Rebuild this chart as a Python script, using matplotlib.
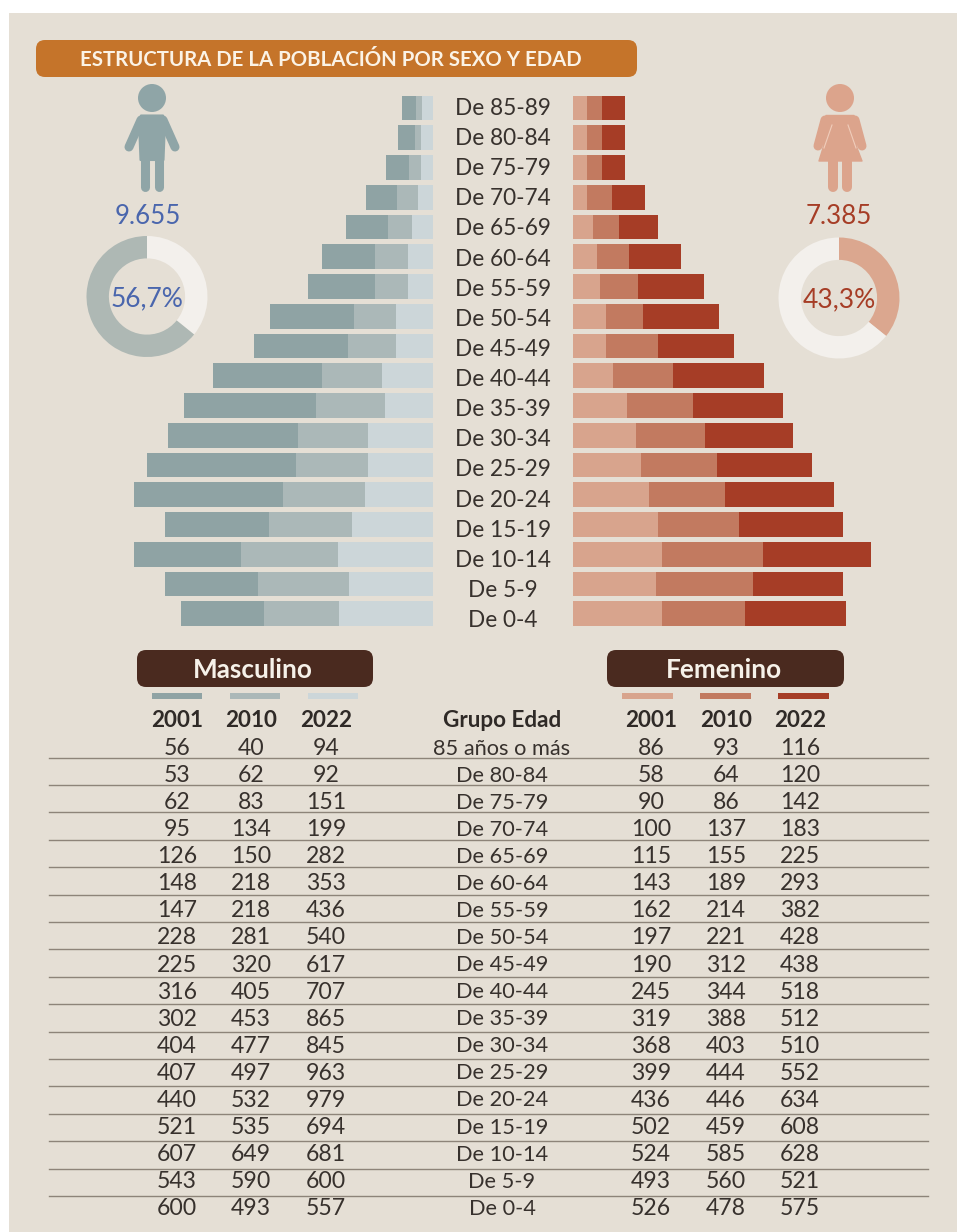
import matplotlib
matplotlib.use("Agg")
import matplotlib.pyplot as plt
from matplotlib.patches import FancyBboxPatch, Rectangle, Circle, Polygon

W, H = 957, 1232
plt.rcParams['font.family'] = ['Lato', 'DejaVu Sans']

age_labels = ["De 85-89","De 80-84","De 75-79","De 70-74","De 65-69","De 60-64","De 55-59","De 50-54","De 45-49",
              "De 40-44","De 35-39","De 30-34","De 25-29","De 20-24","De 15-19","De 10-14","De 5-9","De 0-4"]
table_labels = ["85 años o más"] + age_labels[1:]
years = ["2001", "2010", "2022"]

# values printed in the table
male_2001 = [56,53,62,95,126,148,147,228,225,316,302,404,407,440,521,607,543,600]
male_2010 = [40,62,83,134,150,218,218,281,320,405,453,477,497,532,535,649,590,493]
male_2022 = [94,92,151,199,282,353,436,540,617,707,865,845,963,979,694,681,600,557]
female_2001 = [86,58,90,100,115,143,162,197,190,245,319,368,399,436,502,524,493,526]
female_2010 = [93,64,86,137,155,189,214,221,312,344,388,403,444,446,459,585,560,478]
female_2022 = [116,120,142,183,225,293,382,428,438,518,512,510,552,634,608,628,521,575]

# lengths of the drawn bars, as read from the pyramid (they differ slightly from the table)
bar_male_inner = [71,76,76,93,132,162,162,237,237,326,309,417,417,440,522,615,540,604]
bar_male_mid = [37,39,78,136,155,212,212,274,309,393,447,456,471,531,535,626,594,486]
bar_male_outer = [93,108,149,201,274,345,432,544,611,706,855,840,965,963,678,693,602,542]
bar_female_inner = [84,84,84,84,118,140,157,192,192,235,315,365,398,441,495,521,484,521]
bar_female_mid = [84,84,84,146,148,188,220,218,303,350,383,406,441,447,472,585,567,484]
bar_female_outer = [134,134,134,188,229,299,387,441,445,530,523,513,552,631,608,629,524,585]

male_total = "9.655"
female_total = "7.385"
male_pct = "56,7%"
female_pct = "43,3%"
# ring arcs as drawn in the picture
male_ring = [35.8, 64.2]
female_ring = [35.8, 64.2]

PAPER = "#e5dfd5"
M_COL = ["#ccd6d9", "#abb8b8", "#8fa3a4"]
F_COL = ["#d8a48d", "#c27a60", "#a63d26"]
TXT = "#37312d"
HEAD = "#2f2a27"
BLUE = "#4a66ad"
RED = "#a63d26"

fig = plt.figure(figsize=(W / 100, H / 100), dpi=100, facecolor="white")

def px_axes(l, t, r, b, z=1):
    return fig.add_axes([l / W, 1 - b / H, (r - l) / W, (b - t) / H], zorder=z)

ov = px_axes(0, 0, W, H, 0)
ov.set_xlim(0, W); ov.set_ylim(H, 0); ov.axis("off")
ov.add_patch(Rectangle((9, 13), W - 9, H - 13, fc=PAPER, ec="none"))

top = px_axes(0, 0, W, H, 5)
top.set_xlim(0, W); top.set_ylim(H, 0); top.axis("off"); top.patch.set_alpha(0)

def label(ax, x, yc, s, fs, color=TXT, ha="center", weight="normal"):
    # yc is the centre of the capitals/digits; placed through the baseline
    ax.text(x, yc + 0.5 * fs, s, color=color, fontsize=fs, ha=ha, va="baseline", fontweight=weight)

def pill(ax, x0, y0, x1, y1, color, r=9):
    ax.add_patch(FancyBboxPatch((x0 + r, y0 + r), x1 - x0 - 2 * r, y1 - y0 - 2 * r,
                                boxstyle=f"round,pad={r},rounding_size={r}", fc=color, ec="none"))

pill(ov, 36, 40, 637, 77, "#c5742a")
label(ov, 80, 59, "ESTRUCTURA DE LA POBLACIÓN POR SEXO Y EDAD", 14.7, color="#fbf3e6", ha="left", weight="bold")

# pyramid bars
row0, pitch = 108.0, 29.75
ytop, ybot = row0 - pitch / 2, row0 + 17 * pitch + pitch / 2
ypos = list(range(len(age_labels)))
m_scale, f_scale = 0.1544, 0.1716

axm = px_axes(100, ytop, 432.7, ybot, 2)
axm.set_xlim(332.7 / m_scale, 0); axm.set_ylim(17.5, -0.5); axm.axis("off")
left = [0] * 18
for vals, c in zip([bar_male_inner, bar_male_mid, bar_male_outer], M_COL):
    axm.barh(ypos, vals, left=left, height=0.825, color=c, linewidth=0)
    left = [a + b for a, b in zip(left, vals)]

axf = px_axes(573, ytop, 900, ybot, 2)
axf.set_xlim(0, 327 / f_scale); axf.set_ylim(17.5, -0.5); axf.axis("off")
left = [0] * 18
for vals, c in zip([bar_female_inner, bar_female_mid, bar_female_outer], F_COL):
    axf.barh(ypos, vals, left=left, height=0.825, color=c, linewidth=0)
    left = [a + b for a, b in zip(left, vals)]

for i, lab in enumerate(age_labels):
    label(ov, 503, 106.7 + i * 30.13, lab, 16.3)

# person icons
MI = "#8fa5a7"
top.add_patch(Circle((152, 98), 14, fc=MI, ec="none"))
top.add_patch(Polygon([(141, 115.5), (163, 115.5), (165, 122), (163.5, 160), (140.5, 160), (139, 122)], closed=True,
                      fc=MI, ec=MI, lw=1.5, joinstyle="round"))
top.plot([141, 129], [120, 147], color=MI, lw=6.5, solid_capstyle="round")
top.plot([163, 175], [120, 147], color=MI, lw=6.5, solid_capstyle="round")
top.plot([145, 145], [155, 187], color=MI, lw=6.5, solid_capstyle="round")
top.plot([158.7, 158.7], [155, 187], color=MI, lw=6.5, solid_capstyle="round")

FI = "#dca48c"
top.add_patch(Circle((840, 98), 14, fc=FI, ec="none"))
top.add_patch(Polygon([(826, 115.5), (854, 115.5), (857, 148), (862, 161), (819, 161), (823, 148)], closed=True,
                      fc=FI, ec=FI, lw=1, joinstyle="round"))
top.plot([825, 818], [120, 146], color=FI, lw=6.5, solid_capstyle="round")
top.plot([855, 862], [120, 146], color=FI, lw=6.5, solid_capstyle="round")
top.plot([832, 824], [125, 148], color="#f0cdbb", lw=0.8)
top.plot([848, 856], [125, 148], color="#f0cdbb", lw=0.8)
top.plot([833, 833], [158, 187], color=FI, lw=7.2, solid_capstyle="round")
top.plot([847, 847], [158, 187], color=FI, lw=7.2, solid_capstyle="round")

# totals and rings
label(ov, 147.5, 215, male_total, 18.6, color=BLUE)
label(ov, 839, 215, female_total, 18.6, color=RED)

def donut(cx, cy, vals, colors, text, lcol):
    r = 60.5
    ax = px_axes(cx - r, cy - r, cx + r, cy + r, 3)
    ax.pie(vals, colors=colors, radius=1.0, startangle=90, counterclock=False,
           wedgeprops=dict(width=0.37, linewidth=0))
    ax.set_xlim(-1, 1); ax.set_ylim(-1, 1); ax.axis("off")
    label(top, cx, cy, text, 19, color=lcol)

donut(147, 296.5, male_ring, ["#f3f0ec", "#aeb8b4"], male_pct, BLUE)
donut(839, 298, female_ring, ["#dba78f", "#f3f0ec"], female_pct, RED)

# group headers and legend swatches
pill(ov, 137, 650, 373, 687, "#4a2a1f")
pill(ov, 607, 650, 844, 687, "#4a2a1f")
label(ov, 253, 669, "Masculino", 18.8, color="#f6f1e9", weight="bold")
label(ov, 723.5, 669, "Femenino", 18.8, color="#f6f1e9", weight="bold")

for x0, c in zip([152, 230, 308], M_COL[::-1]):
    ov.add_patch(Rectangle((x0, 693), 50, 5.7, fc=c, ec="none"))
for x0, c in zip([622, 700, 778], F_COL):
    ov.add_patch(Rectangle((x0, 693), 51, 5.7, fc=c, ec="none"))

# table
male_x = [177, 251, 326]
female_x = [651, 726, 800]
group_x = 502
for x, y in zip(male_x + female_x, years + years):
    label(ov, x, 719, y, 16.2, color=HEAD, weight="bold")
label(ov, group_x, 719, "Grupo Edad", 16.2, color=HEAD, weight="bold")

trow0, tpitch = 746.7, 27.07
columns = [male_2001, male_2010, male_2022, female_2001, female_2010, female_2022]
for i, lab in enumerate(table_labels):
    y = trow0 + i * tpitch
    for x, col in zip(male_x + female_x, columns):
        label(ov, x, y, str(col[i]), 16.6)
    label(ov, group_x, y, lab, 15.7)
    if i < 17:
        yl = 757.7 + i * 27.39
        ov.plot([49, 928], [yl, yl], color="#8d8479", lw=1)

fig.savefig("out.png", dpi=100, facecolor="white")
